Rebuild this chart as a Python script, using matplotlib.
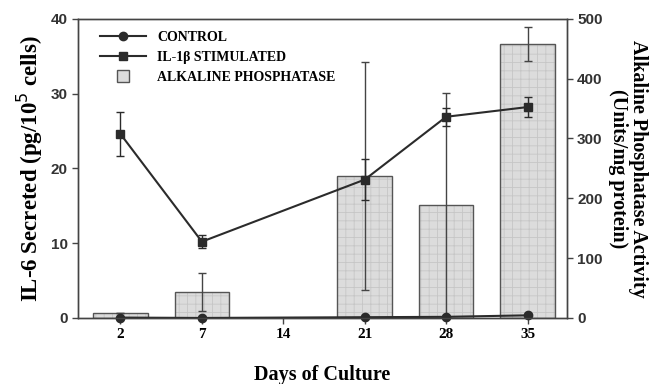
import numpy as np
import matplotlib
matplotlib.use("Agg")
import matplotlib.pyplot as plt
from matplotlib.lines import Line2D

days = ["2", "7", "14", "21", "28", "35"]

# alkaline phosphatase (right axis, Units/mg protein)
alp = [9, 43, 0, 237, 188, 458]
alp_err = [0, 32, 0, 190, 188, 29]

# IL-6 secreted (left axis, pg/10^5 cells); day 14 not measured
control = [0.05, 0.0, np.nan, 0.1, 0.15, 0.35]
il1b = [24.6, 10.2, np.nan, 18.5, 26.9, 28.2]
il1b_err = [3.0, 0.9, np.nan, 2.7, 1.2, 1.3]

serif = "Liberation Serif"
sans = "Liberation Sans"
dark = "#2b2b2b"
plt.rcParams["hatch.linewidth"] = 0.6

fig = plt.figure(figsize=(6.62, 3.84), dpi=100)
ax = fig.add_axes([0.118, 0.172, 0.738, 0.779])
x = np.arange(len(days))

# bars on the base axes, scaled on the right
# faint grid texture first, then the outline on top
ax.bar(x, alp, width=0.67, color="#dcdcdc", edgecolor="#c6c6c6", linewidth=0,
       hatch="++", zorder=2)
ax.bar(x, alp, width=0.67, fill=False, edgecolor="#555555", linewidth=1.0, zorder=2.5)
ax.errorbar(x, alp, yerr=alp_err, fmt="none", ecolor="#444444", elinewidth=1.0,
            capsize=3, capthick=1.0, zorder=3)
ax.set_ylim(0, 500)
ax.set_xlim(-0.52, 5.48)

# lines on a twin axes, scaled on the left
ax2 = ax.twinx()
ax2.set_ylim(0, 40)
ax2.set_yticks([0, 10, 20, 30, 40])

m = ~np.isnan(il1b)
ax2.errorbar(x[m], np.array(il1b)[m], yerr=np.array(il1b_err)[m], fmt="s-",
             color=dark, ms=6, lw=1.5, elinewidth=1.0, capsize=3, capthick=1.0)
mc = ~np.isnan(control)
ax2.plot(x[mc], np.array(control)[mc], "o-", color=dark, ms=6, lw=1.5, clip_on=False)

# swap sides: bars scale on the right, lines on the left
ax.yaxis.tick_right()
ax.yaxis.set_label_position("right")
ax2.yaxis.tick_left()
ax2.yaxis.set_label_position("left")
ax.set_yticks([0, 100, 200, 300, 400, 500])

ax.set_ylabel("Alkaline Phosphatase Activity\n(Units/mg protein)", rotation=270,
              labelpad=33, fontsize=14.5, fontweight="bold", family=serif,
              linespacing=1.0)
ax2.set_ylabel("IL-6 Secreted (pg/10$^5$ cells)", fontsize=16.5, fontweight="bold",
               family=serif, labelpad=4)

ax.set_xticks(x)
ax.set_xticklabels(days, fontsize=11, fontweight="bold", family=serif)
ax.set_xlabel("Days of Culture", fontsize=14.5, fontweight="bold", family=serif,
              labelpad=17)

for a in (ax, ax2):
    for s in a.spines.values():
        s.set_color("#444444")
        s.set_linewidth(1.0)
    a.tick_params(direction="out", length=4, color="#444444", width=1.0)
    for lab in a.get_yticklabels():
        lab.set_fontsize(11)
        lab.set_fontweight("bold")
        lab.set_family(sans)
        lab.set_color("#333333")

handles = [
    Line2D([], [], color=dark, marker="o", ms=6, lw=1.5),
    Line2D([], [], color=dark, marker="s", ms=6, lw=1.5),
    Line2D([], [], color="none", marker="s", ms=9, markerfacecolor="#dcdcdc",
           markeredgecolor="#555555"),
]
labels = ["CONTROL", "IL-1\u03b2 STIMULATED", "ALKALINE PHOSPHATASE"]
ax2.legend(handles, labels, loc="upper left", bbox_to_anchor=(0.02, 1.0),
           frameon=False, handlelength=3.3, handletextpad=0.8, labelspacing=0.5,
           prop={"family": serif, "weight": "bold", "size": 10})

fig.savefig("out.png", dpi=100)
